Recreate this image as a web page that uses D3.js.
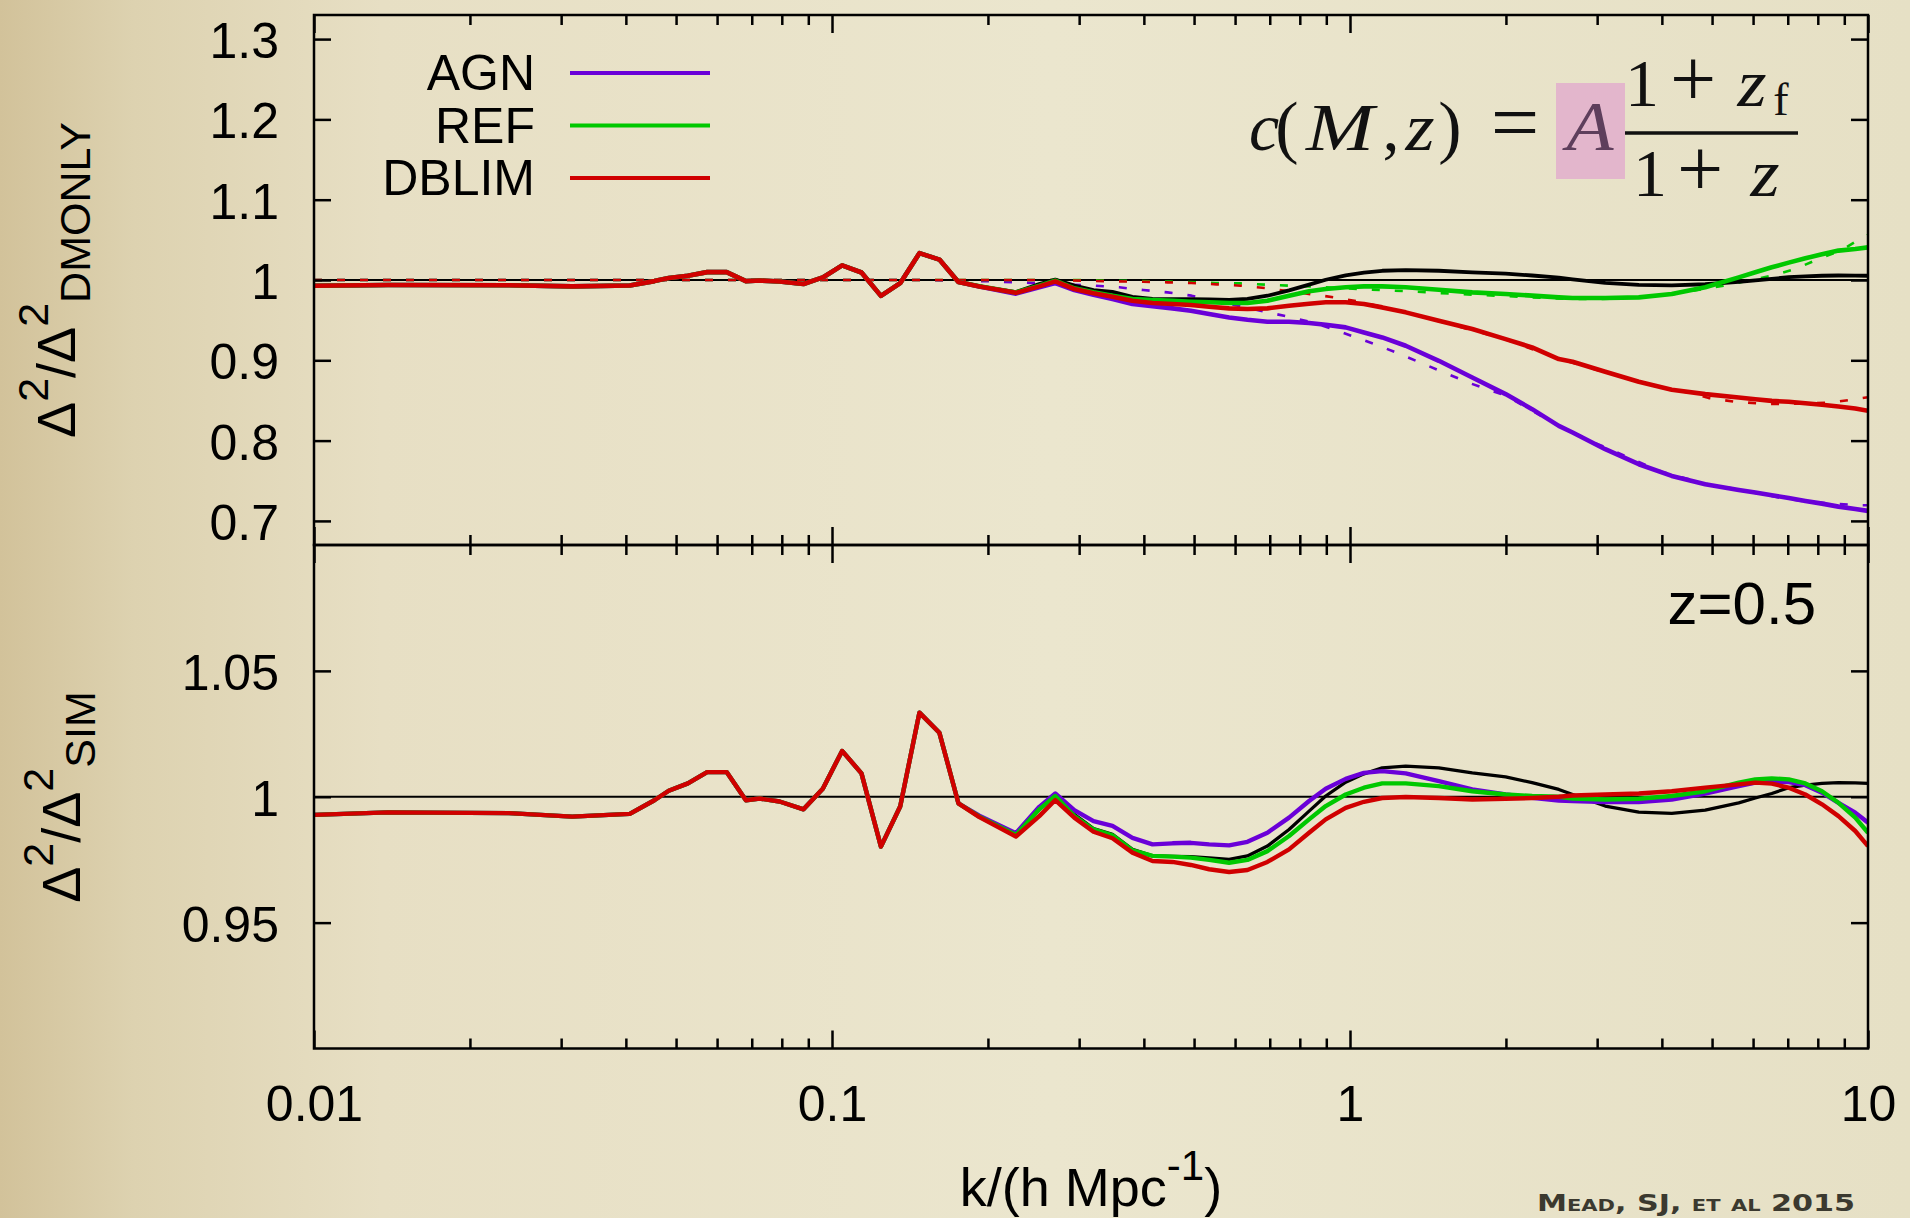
<!DOCTYPE html>
<html>
<head>
<meta charset="utf-8">
<script src="https://cdn.jsdelivr.net/npm/d3@7"></script>
<style>
  html, body { margin: 0; padding: 0; overflow: hidden; }
  svg { display: block; }
  text { font-family: "Liberation Sans", Arial, sans-serif; fill: #000; }
  .tick text { font-size: 50px; }
  .math { font-family: "Liberation Serif", "Times New Roman", serif; fill: #111; }
</style>
</head>
<body>
<svg id="chart" width="1910" height="1218"></svg>
<script>

// Simulation bins below k ~ 0.18: every model ratio is identical here.
var kLow = [0.01, 0.0139, 0.0238, 0.0315, 0.0407, 0.0454, 0.0484, 0.0527,
  0.0574, 0.0626, 0.0682, 0.0725, 0.0792, 0.0881, 0.096, 0.1046, 0.114,
  0.1243, 0.1354, 0.1475, 0.1612, 0.1754];
var vLow = [0.9928, 0.9938, 0.9935, 0.9921, 0.9932, 0.9986, 1.0024, 1.0053,
  1.0098, 1.0098, 0.9986, 0.9993, 0.9981, 0.9950, 1.0032, 1.0182, 1.0093,
  0.9802, 0.9961, 1.0334, 1.0254, 0.9974];

// Remaining k values where the curves split apart.
var kSim = [0.1925, 0.2265, 0.2513, 0.2698, 0.2936, 0.3198, 0.3479, 0.3802,
  0.4157, 0.4543, 0.4928, 0.5346, 0.5843, 0.6339, 0.6927, 0.7627, 0.8337,
  0.8977, 0.981, 1.064, 1.154, 1.281, 1.484, 1.722, 1.997, 2.247, 2.53, 2.69,
  3.11, 3.61, 4.18, 4.85, 5.63, 6.06, 6.52, 7.03, 7.57, 8.15, 8.77, 9.45, 10];

// Black curve (same in both panels).
var dmonly = [0.9922, 0.9850, 0.9950, 1.0005, 0.9930, 0.9874, 0.9851, 0.9791,
  0.9765, 0.9763, 0.9762, 0.9757, 0.9751, 0.9765, 0.9804, 0.9870, 0.9943,
  1.0003, 1.0058, 1.0091, 1.0115, 1.0122, 1.0115, 1.0095, 1.0079, 1.0056,
  1.0029, 1.0009, 0.9963, 0.9939, 0.9934, 0.9947, 0.9976, 0.9995, 1.0013,
  1.0036, 1.0046, 1.0053, 1.0056, 1.0055, 1.0053];

// Upper panel: Delta^2 / Delta^2_DMONLY
var agnTop = [0.9920, 0.9830, 0.9909, 0.9963, 0.9875, 0.9817, 0.9763, 0.9701,
  0.9672, 0.9647, 0.9618, 0.9576, 0.9534, 0.9505, 0.9480, 0.9480, 0.9464,
  0.9443, 0.9410, 0.9347, 0.9285, 0.9181, 0.8994, 0.8786, 0.8579, 0.8392,
  0.8184, 0.8101, 0.7893, 0.7706, 0.7560, 0.7456, 0.7386, 0.7353, 0.7319,
  0.7285, 0.7249, 0.7215, 0.7178, 0.7149, 0.7124];
var refTop = [0.9921, 0.9845, 0.9929, 0.9992, 0.9896, 0.9846, 0.9805, 0.9763,
  0.9751, 0.9742, 0.9730, 0.9722, 0.9713, 0.9713, 0.9742, 0.9805, 0.9859,
  0.9888, 0.9909, 0.9921, 0.9921, 0.9909, 0.9879, 0.9846, 0.9825, 0.9805,
  0.9784, 0.9776, 0.9776, 0.9784, 0.9825, 0.9909, 1.0033, 1.0096, 1.0158,
  1.0216, 1.0270, 1.0320, 1.0366, 1.0387, 1.0407];
var dblimTop = [0.9919, 0.9840, 0.9921, 0.9983, 0.9888, 0.9834, 0.9792, 0.9742,
  0.9713, 0.9701, 0.9688, 0.9667, 0.9647, 0.9638, 0.9647, 0.9680, 0.9705,
  0.9722, 0.9722, 0.9701, 0.9659, 0.9597, 0.9493, 0.9389, 0.9264, 0.9160,
  0.9015, 0.8982, 0.8857, 0.8732, 0.8633, 0.8579, 0.8537, 0.8516, 0.8495,
  0.8483, 0.8466, 0.8446, 0.8425, 0.8400, 0.8371];

// Upper panel: dashed fits.
var agnFitK = [0.01, 0.15, 0.2, 0.25, 0.3208, 0.3585, 0.3988, 0.4443, 0.4943,
  0.7539, 0.8312, 0.9274, 1.026, 1.138, 1.258, 1.389, 1.534, 1.702, 2.0, 2.5,
  3.0, 4.0, 5.0, 5.63, 6.24, 6.93, 7.67, 9.6, 10];
var agnFitV = [1.0, 1.0, 0.9985, 0.996, 0.9929, 0.9909, 0.9875, 0.9846, 0.9805,
  0.9547, 0.9485, 0.9389, 0.9285, 0.9181, 0.9069, 0.8953, 0.8836, 0.8716,
  0.856, 0.820, 0.796, 0.761, 0.744, 0.7394, 0.7332, 0.7278, 0.7236, 0.7195,
  0.7195];
var refFitK = [0.01, 0.3, 0.45, 0.5507, 0.6153, 0.6866, 0.7627, 0.852, 1.041,
  1.172, 1.2995, 1.452, 1.611, 2.0, 2.5, 3.0, 4.0, 5.26, 6.52, 7.24, 8.03,
  8.86, 9.78, 10];
var refFitV = [1.0, 1.0, 0.998, 0.9963, 0.9958, 0.9942, 0.9929, 0.9917, 0.9888,
  0.9871, 0.9859, 0.9842, 0.9825, 0.980, 0.977, 0.976, 0.980, 0.9929, 1.0054,
  1.0137, 1.0262, 1.0366, 1.0532, 1.056];
var dblimFitK = [0.01, 0.27, 0.3208, 0.3585, 0.3988, 0.4443, 0.4943, 0.5525,
  0.6153, 0.6866, 0.941, 1.04, 1.2, 1.5, 2.0, 2.5, 3.0, 4.0, 4.57, 4.93, 5.5,
  6.15, 6.87, 8.52, 9.45, 10];
var dblimFitV = [1.0, 1.0, 0.9988, 0.9983, 0.9979, 0.9971, 0.9963, 0.9946,
  0.9929, 0.99, 0.978, 0.973, 0.964, 0.948, 0.926, 0.903, 0.888, 0.866, 0.8591,
  0.8529, 0.8487, 0.8462, 0.8454, 0.8475, 0.8516, 0.854];

// Lower panel: Delta^2 / Delta^2_SIM
var agnBot = [0.9925, 0.9855, 0.9960, 1.0013, 0.9947, 0.9903, 0.9884, 0.9837,
  0.9811, 0.9815, 0.9817, 0.9811, 0.9807, 0.9821, 0.9857, 0.9917, 0.9983,
  1.0032, 1.0071, 1.0095, 1.0102, 1.0093, 1.0062, 1.0029, 1.0009, 0.9996,
  0.9985, 0.9983, 0.9979, 0.9979, 0.9989, 1.0013, 1.0042, 1.0056, 1.0060,
  1.0058, 1.0046, 1.0016, 0.9976, 0.9937, 0.9897];
var refBot = [0.9921, 0.9848, 0.9950, 1.0003, 0.9923, 0.9870, 0.9847, 0.9787,
  0.9765, 0.9762, 0.9758, 0.9749, 0.9738, 0.9749, 0.9784, 0.9844, 0.9910,
  0.9963, 1.0009, 1.0036, 1.0053, 1.0053, 1.0042, 1.0022, 1.0009, 1.0003,
  1.0000, 0.9993, 0.9989, 0.9992, 1.0003, 1.0022, 1.0056, 1.0069, 1.0073,
  1.0069, 1.0053, 1.0022, 0.9976, 0.9917, 0.9857];
var dblimBot = [0.9919, 0.9842, 0.9923, 0.9987, 0.9917, 0.9861, 0.9835, 0.9778,
  0.9745, 0.9741, 0.9729, 0.9712, 0.9701, 0.9709, 0.9741, 0.9791, 0.9857,
  0.9910, 0.9956, 0.9980, 0.9995, 0.9999, 0.9995, 0.9989, 0.9992, 0.9995,
  1.0000, 1.0005, 1.0009, 1.0013, 1.0022, 1.0036, 1.0049, 1.0056, 1.0052,
  1.0036, 1.0009, 0.9970, 0.9923, 0.9864, 0.9804];

var seriesNames = ['AGN', 'REF', 'DBLIM'];
var seriesColors = ['#6a00d8', '#00c800', '#d00000'];
var topTicks = [0.7, 0.8, 0.9, 1.0, 1.1, 1.2, 1.3];
var botTicks = [0.95, 1.0, 1.05];
var xTickLabels = [0.01, 0.1, 1, 10];


var svg = d3.select('#chart');

// Background: beige, darker toward the left edge.
var defs = svg.append('defs');
var grad = defs.append('linearGradient').attr('id', 'bg')
  .attr('x1', 0).attr('x2', 1).attr('y1', 0).attr('y2', 0);
[['0', '#d2c29a'], ['0.07', '#ddd2b0'], ['0.2', '#e7dfc4'],
 ['0.55', '#ebe6ce'], ['1', '#e6e0c5']].forEach(function(s) {
  grad.append('stop').attr('offset', s[0]).attr('stop-color', s[1]);
});
svg.append('rect').attr('width', 1910).attr('height', 1218)
  .attr('fill', 'url(#bg)');

var x = d3.scaleLog().domain([0.01, 10]).range([314, 1868]);
var yTop = d3.scaleLinear().domain([0.67, 1.33]).range([545, 15]);
var yBot = d3.scaleLinear().domain([0.9, 1.1]).range([1048.5, 545]);

var xMajor = xTickLabels;
var xMinor = x.ticks().filter(function(d) {
  return xMajor.indexOf(d) < 0;
});

['top', 'bot'].forEach(function(id) {
  var y = id === 'top' ? yTop : yBot;
  defs.append('clipPath').attr('id', 'clip-' + id).append('rect')
    .attr('x', x.range()[0]).attr('y', y.range()[1])
    .attr('width', x.range()[1] - x.range()[0])
    .attr('height', y.range()[0] - y.range()[1]);
});


/**
 * Draw the ticks, labels and frame of one panel.
 */
function drawFrame(y, ticks, showX) {
  var x0 = x.range()[0], x1 = x.range()[1];
  var g = svg.append('g');

  var strip = function(sel) {
    sel.select('.domain').remove();
    sel.selectAll('.tick line').attr('stroke', '#000').attr('stroke-width', 2.5);
  };

  // x ticks along bottom and top edges, pointing inward.
  g.append('g').attr('transform', 'translate(0,' + y.range()[0] + ')')
    .call(d3.axisBottom(x).tickValues(xMinor).tickSize(-10).tickFormat(''))
    .call(strip);
  g.append('g').attr('transform', 'translate(0,' + y.range()[1] + ')')
    .call(d3.axisTop(x).tickValues(xMinor).tickSize(-10).tickFormat(''))
    .call(strip);
  g.append('g').attr('transform', 'translate(0,' + y.range()[1] + ')')
    .call(d3.axisTop(x).tickValues(xMajor).tickSize(-18).tickFormat(''))
    .call(strip);
  var xb = g.append('g').attr('transform', 'translate(0,' + y.range()[0] + ')')
    .call(d3.axisBottom(x).tickValues(xMajor).tickSize(-18).tickPadding(37)
      .tickFormat(showX ? d3.format('~g') : ''))
    .call(strip);
  xb.selectAll('.tick text').attr('fill', '#000');

  // y ticks on both sides.
  var yl = g.append('g').attr('transform', 'translate(' + x0 + ',0)')
    .call(d3.axisLeft(y).tickValues(ticks).tickSize(-17).tickPadding(35)
      .tickFormat(d3.format('~g')))
    .call(strip);
  yl.selectAll('.tick text').attr('fill', '#000').attr('dy', '0.37em');
  g.append('g').attr('transform', 'translate(' + x1 + ',0)')
    .call(d3.axisRight(y).tickValues(ticks).tickSize(-17).tickFormat(''))
    .call(strip);

  // Frame.
  g.append('rect')
    .attr('x', x0).attr('y', y.range()[1])
    .attr('width', x1 - x0).attr('height', y.range()[0] - y.range()[1])
    .attr('fill', 'none').attr('stroke', '#000').attr('stroke-width', 2.5);
}


/**
 * Draw one polyline from a list of k values and ratios.
 */
function drawLine(layer, y, ks, vs, color, width, dash) {
  var line = d3.line()
    .x(function(d) { return x(d[0]); })
    .y(function(d) { return y(d[1]); });
  layer.append('path')
    .datum(d3.zip(ks, vs))
    .attr('d', line)
    .attr('fill', 'none')
    .attr('stroke', color)
    .attr('stroke-width', width)
    .attr('stroke-linejoin', 'round')
    .attr('stroke-dasharray', dash || null);
}

function drawUnity(layer, y) {
  layer.append('line')
    .attr('x1', x.range()[0]).attr('x2', x.range()[1])
    .attr('y1', y(1)).attr('y2', y(1))
    .attr('stroke', '#000').attr('stroke-width', 2.2);
}

var kAll = kLow.concat(kSim);

// Upper panel.
var upper = svg.append('g').attr('clip-path', 'url(#clip-top)');
drawUnity(upper, yTop);
drawLine(upper, yTop, agnFitK, agnFitV, seriesColors[0], 2.6, '8,15');
drawLine(upper, yTop, refFitK, refFitV, seriesColors[1], 2.6, '8,15');
drawLine(upper, yTop, dblimFitK, dblimFitV, seriesColors[2], 2.6, '8,15');
drawLine(upper, yTop, kAll, vLow.concat(dmonly), '#000', 3.8);
drawLine(upper, yTop, kAll, vLow.concat(agnTop), seriesColors[0], 4.6);
drawLine(upper, yTop, kAll, vLow.concat(refTop), seriesColors[1], 4.6);
drawLine(upper, yTop, kAll, vLow.concat(dblimTop), seriesColors[2], 4.6);

// Lower panel.
var lower = svg.append('g').attr('clip-path', 'url(#clip-bot)');
drawUnity(lower, yBot);
drawLine(lower, yBot, kAll, vLow.concat(dmonly), '#000', 3.3);
drawLine(lower, yBot, kAll, vLow.concat(agnBot), seriesColors[0], 4.4);
drawLine(lower, yBot, kAll, vLow.concat(refBot), seriesColors[1], 4.4);
drawLine(lower, yBot, kAll, vLow.concat(dblimBot), seriesColors[2], 4.4);

drawFrame(yTop, topTicks, false);
drawFrame(yBot, botTicks, true);

// Legend.
var legend = svg.append('g');
seriesNames.forEach(function(name, i) {
  var base = 90 + i * 52.5;
  legend.append('text')
    .attr('x', 535).attr('y', base)
    .attr('text-anchor', 'end').style('font-size', '50px')
    .text(name);
  legend.append('line')
    .attr('x1', 570).attr('x2', 710)
    .attr('y1', base - 17).attr('y2', base - 17)
    .attr('stroke', seriesColors[i]).attr('stroke-width', 4);
});

// Axis titles.
function yTitle(cx, cy, sub) {
  var t = svg.append('text')
    .attr('transform', 'translate(' + cx + ',' + cy + ') rotate(-90)')
    .attr('text-anchor', 'middle').style('font-size', '54px');
  t.append('tspan').text('\u0394');
  t.append('tspan').attr('dy', -27).style('font-size', '43px').text('2');
  t.append('tspan').attr('dy', 27).text('/\u0394');
  t.append('tspan').attr('dy', -27).style('font-size', '43px').text('2');
  t.append('tspan').attr('dy', 42).style('font-size', '43px').text(sub);
}
yTitle(75, 280, 'DMONLY');
yTitle(80, 797, 'SIM');

var xt = svg.append('text')
  .attr('x', 1091).attr('y', 1206)
  .attr('text-anchor', 'middle').style('font-size', '54px');
xt.append('tspan').text('k/(h Mpc');
xt.append('tspan').attr('dy', -26).style('font-size', '42px').text('-1');
xt.append('tspan').attr('dy', 26).text(')');

svg.append('text')
  .attr('x', 1816).attr('y', 624).attr('text-anchor', 'end')
  .style('font-size', '60px').text('z=0.5');

// Concentration relation, glyph by glyph: [text, x, y, italic, size, xscale]
var eq = svg.append('g');
eq.append('rect').attr('x', 1556).attr('y', 83).attr('width', 69)
  .attr('height', 96).attr('fill', '#e3b6cc');
var glyphs = [
  ['c', 1264, 150, true, 68, 1], ['(', 1287, 150, false, 70, 1],
  ['M', 1340, 150, true, 68, 1.2], [',', 1391, 150, false, 68, 1],
  ['z', 1420, 150, true, 68, 1.1], [')', 1450, 150, false, 70, 1],
  ['=', 1515, 150, false, 82, 1.05], ['A', 1590, 150, true, 70, 1.1],
  ['1', 1642, 106, false, 68, 1], ['+', 1693, 106, false, 82, 1],
  ['z', 1752, 106, true, 68, 1.1], ['f', 1781, 115, false, 46, 1],
  ['1', 1650, 196, false, 68, 1], ['+', 1700, 196, false, 82, 1],
  ['z', 1765, 196, true, 68, 1.1]
];
glyphs.forEach(function(gl) {
  eq.append('text').attr('class', 'math')
    .attr('transform', 'translate(' + gl[1] + ',' + gl[2] + ') scale(' +
      gl[5] + ',1)')
    .attr('text-anchor', 'middle')
    .style('font-size', gl[4] + 'px')
    .style('font-style', gl[3] ? 'italic' : 'normal')
    .style('fill', gl[0] === 'A' ? '#5e3f5c' : null)
    .text(gl[0]);
});
eq.append('line').attr('x1', 1625).attr('x2', 1798)
  .attr('y1', 133).attr('y2', 133)
  .attr('stroke', '#111').attr('stroke-width', 3.5);

// Credit.
svg.append('text')
  .attr('x', 1537).attr('y', 1211)
  .attr('textLength', 318).attr('lengthAdjust', 'spacingAndGlyphs')
  .style('font-family', '"DejaVu Sans", sans-serif')
  .style('font-variant', 'small-caps').style('font-weight', 'bold')
  .style('font-size', '23px').style('fill', '#3b392f')
  .text('Mead, SJ, et al 2015');

</script>
</body>
</html>
